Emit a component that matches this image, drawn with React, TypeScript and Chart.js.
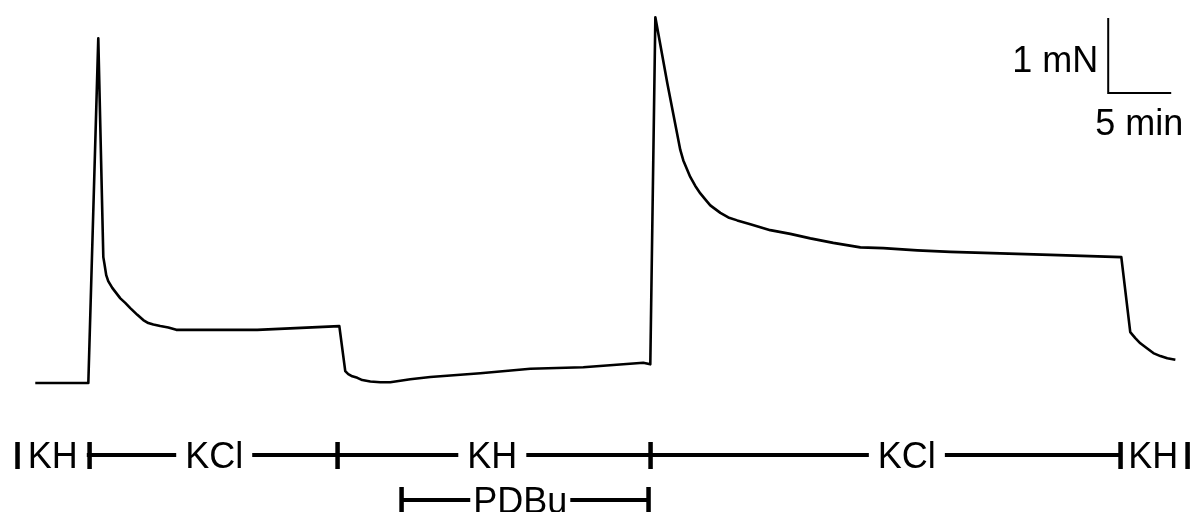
import React, { useEffect, useRef } from "react";
import { Chart, registerables } from "chart.js";

Chart.register(...registerables);

// Isometric force trace: time (min) vs force (mN)
const timeMin = [
  0, 4.21, 5.0, 5.4, 5.48, 5.63, 5.79, 6.11, 6.43, 6.75, 7.14, 7.54, 8.1, 8.57,
  8.97, 9.37, 9.92, 10.56, 11.19, 17.62, 24.13, 24.6, 24.84, 25.16, 25.56,
  25.95, 26.59, 27.38, 28.17, 28.97, 29.76, 31.35, 35.32, 39.29, 43.49, 45.87,
  48.25, 48.81, 49.21, 50.16, 51.19, 51.43, 51.98, 52.38, 52.78, 53.17, 53.57,
  53.97, 54.37, 55.0, 55.71, 56.75, 58.33, 59.92, 61.51, 63.33, 65.48, 67.3,
  70.0, 72.62, 76.59, 80.56, 86.19, 86.9, 87.3, 87.7, 88.17, 88.73, 89.29,
  89.84, 90.48,
];
const forceMN = [
  0, 0, 4.6, 1.68, 1.6, 1.44, 1.36, 1.27, 1.2, 1.13, 1.07, 1.0, 0.91, 0.84, 0.8,
  0.78, 0.76, 0.74, 0.71, 0.71, 0.76, 0.16, 0.12, 0.09, 0.07, 0.04, 0.02, 0.01,
  0.01, 0.03, 0.05, 0.08, 0.13, 0.19, 0.21, 0.24, 0.27, 0.25, 4.88, 4.0, 3.11,
  2.97, 2.75, 2.63, 2.53, 2.45, 2.37, 2.32, 2.27, 2.21, 2.17, 2.12, 2.04, 1.99,
  1.93, 1.87, 1.81, 1.8, 1.77, 1.75, 1.73, 1.71, 1.68, 0.68, 0.6, 0.53, 0.47,
  0.4, 0.36, 0.33, 0.31,
];

// Solution protocol (bath changes), in minutes
const protocolTicks = [-1.43, 4.29, 23.97, 48.81, 86.11, 91.43];
const protocolLabels = ["KH", "KCl", "KH", "KCl", "KH"];
const protocolLabelAt = [1.39, 14.2, 36.27, 69.17, 88.73];

const pdbuTicks = [29.05, 48.65];
const pdbuLabels = ["PDBu"];
const pdbuLabelAt = [38.49];

// Scale bar
const scaleCorner = [85.15, 3.87]; // [min, mN]
const scaleLengths = [5, 1]; // [min, mN]
const scaleLabels = ["1 mN", "5 min"];

const X_MIN = -2.8;
const X_MAX = 91.8;
const Y_MIN = -1.72;
const Y_MAX = 5.11;

const FONT = '36px "Liberation Sans", Arial, sans-serif';

const annotationPlugin = {
  id: "annotations",
  afterDraw(chart: any) {
    const ctx = chart.ctx as CanvasRenderingContext2D;
    const xs = chart.scales.x;
    const ys = chart.scales.y;
    ctx.save();
    ctx.font = FONT;
    ctx.fillStyle = "#000";
    ctx.strokeStyle = "#000";

    const drawRow = (
      ticks: number[],
      labels: string[],
      at: number[],
      rowY: number,
      pad: number
    ) => {
      const x0 = xs.getPixelForValue(ticks[0]);
      const x1 = xs.getPixelForValue(ticks[ticks.length - 1]);
      ctx.fillRect(x0, rowY - 2, x1 - x0, 4);
      labels.forEach((lab, i) => {
        const cx = xs.getPixelForValue(at[i]);
        const w = ctx.measureText(lab).width;
        ctx.fillStyle = "#fff";
        ctx.fillRect(cx - w / 2 - pad, rowY - 20, w + 2 * pad, 40);
        ctx.fillStyle = "#000";
        ctx.textAlign = "center";
        ctx.textBaseline = "alphabetic";
        ctx.fillText(lab, cx, rowY + 13);
      });
      ticks.forEach((t) => {
        const px = xs.getPixelForValue(t);
        ctx.fillRect(px - 2, rowY - 13, 4.5, 27);
      });
    };

    drawRow(protocolTicks, protocolLabels, protocolLabelAt, 455, 9);
    drawRow(pdbuTicks, pdbuLabels, pdbuLabelAt, 500, 3);

    // scale bar
    const cx = xs.getPixelForValue(scaleCorner[0]);
    const cy = ys.getPixelForValue(scaleCorner[1]);
    const hx = xs.getPixelForValue(scaleCorner[0] + scaleLengths[0]);
    const vy = ys.getPixelForValue(scaleCorner[1] + scaleLengths[1]);
    ctx.lineWidth = 2;
    ctx.beginPath();
    ctx.moveTo(cx, vy);
    ctx.lineTo(cx, cy);
    ctx.lineTo(hx, cy);
    ctx.stroke();
    ctx.textAlign = "right";
    ctx.textBaseline = "alphabetic";
    ctx.fillText(scaleLabels[0], cx - 10, cy - 21);
    ctx.fillText(scaleLabels[1], hx + 12, cy + 42);
    ctx.restore();
  },
};

export default function App() {
  const ref = useRef<HTMLCanvasElement | null>(null);
  useEffect(() => {
    if (!ref.current) return;
    const chart = new Chart(ref.current, {
      type: "line",
      data: {
        datasets: [
          {
            data: timeMin.map((t, i) => ({ x: t, y: forceMN[i] })),
            borderColor: "#000",
            borderWidth: 2.6,
            pointRadius: 0,
            tension: 0,
            fill: false,
            borderJoinStyle: "round",
          },
        ],
      },
      options: {
        animation: false,
        responsive: false,
        devicePixelRatio: 1,
        layout: { padding: 0 },
        plugins: {
          legend: { display: false },
          tooltip: { enabled: false },
          title: { display: false },
        },
        scales: {
          x: { type: "linear", min: X_MIN, max: X_MAX, display: false },
          y: { type: "linear", min: Y_MIN, max: Y_MAX, display: false },
        },
      },
      plugins: [annotationPlugin],
    } as any);
    return () => chart.destroy();
  }, []);
  return (
    <div
      style={{
        position: "absolute",
        left: 0,
        top: 0,
        width: 1192,
        height: 512,
        background: "#fff",
      }}
    >
      <canvas ref={ref} width={1192} height={512} />
    </div>
  );
}
